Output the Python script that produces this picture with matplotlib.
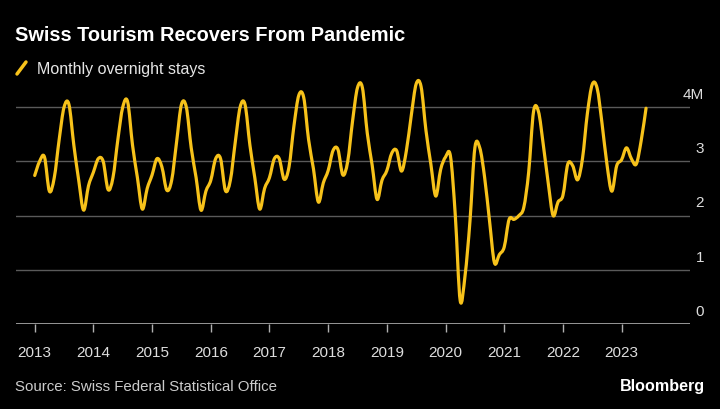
import numpy as np
import matplotlib.pyplot as plt
from matplotlib.path import Path
from matplotlib.patches import PathPatch
from matplotlib.lines import Line2D

# monthly overnight stays, millions
stays_2013 = [2.74, 3.0, 3.08, 2.45, 2.7, 3.4, 4.0, 4.05, 3.3, 2.65, 2.1, 2.55]
stays_2014 = [2.8, 3.05, 3.0, 2.48, 2.7, 3.4, 4.0, 4.1, 3.3, 2.7, 2.12, 2.5]
stays_2015 = [2.75, 3.05, 2.9, 2.47, 2.65, 3.35, 4.05, 4.0, 3.25, 2.7, 2.1, 2.45]
stays_2016 = [2.65, 3.05, 3.05, 2.46, 2.65, 3.35, 4.0, 4.05, 3.3, 2.7, 2.12, 2.5]
stays_2017 = [2.7, 3.05, 3.05, 2.67, 2.9, 3.65, 4.22, 4.18, 3.4, 2.86, 2.25, 2.6]
stays_2018 = [2.83, 3.2, 3.22, 2.75, 3.0, 3.75, 4.36, 4.36, 3.52, 2.93, 2.3, 2.65]
stays_2019 = [2.83, 3.15, 3.2, 2.82, 3.2, 3.85, 4.43, 4.38, 3.57, 2.95, 2.36, 2.85]
stays_2020 = [3.08, 3.1, 2.0, 0.43, 0.9, 1.9, 3.25, 3.25, 2.7, 1.9, 1.13, 1.28]
stays_2021 = [1.42, 1.93, 1.93, 2.0, 2.15, 2.8, 3.92, 3.92, 3.3, 2.6, 2.0, 2.25]
stays_2022 = [2.37, 2.95, 2.92, 2.66, 3.05, 3.88, 4.42, 4.35, 3.7, 2.95, 2.45, 2.92]
stays_2023 = [3.03, 3.25, 3.05, 2.95, 3.38, 3.98]

years = list(range(2013, 2024))
y_ticks = [0, 1, 2, 3, 4]
y_labels = ['0', '1', '2', '3', '4M']

YELLOW = '#f7c21a'
plt.rcParams['font.family'] = ['Liberation Sans', 'DejaVu Sans']

stays = np.array(stays_2013 + stays_2014 + stays_2015 + stays_2016 + stays_2017 +
                 stays_2018 + stays_2019 + stays_2020 + stays_2021 + stays_2022 + stays_2023)
t = 2013 + np.arange(len(stays)) / 12.0

fig = plt.figure(figsize=(7.2, 4.1), dpi=100, facecolor='black')
ax = fig.add_axes([0.0222, 0.2073, 0.936, 0.6016])
ax.set_facecolor('black')
ax.set_xlim(2012.681, 2024.164)
ax.set_ylim(0, 4.55)

# smooth curve through the monthly points (catmull-rom as bezier segments)
pts = np.column_stack([t, stays])
padded = np.vstack([pts[0], pts, pts[-1]])
verts = [tuple(pts[0])]
codes = [Path.MOVETO]
for i in range(1, len(padded) - 2):
    p0, p1, p2, p3 = padded[i - 1], padded[i], padded[i + 1], padded[i + 2]
    verts += [tuple(p1 + (p2 - p0) / 6), tuple(p2 - (p3 - p1) / 6), tuple(p2)]
    codes += [Path.CURVE4] * 3
ax.add_patch(PathPatch(Path(verts, codes), fill=False, edgecolor=YELLOW,
                       lw=2.3, capstyle='round', joinstyle='round', zorder=3,
                       clip_on=False))

# grid and axis
for v in y_ticks[1:]:
    ax.axhline(v, color='#5a5a5a', lw=1, zorder=1)
ax.axhline(0, color='#b0b0b0', lw=1.2, zorder=2)
for v, lab in zip(y_ticks, y_labels):
    ax.text(1.0208, v + 0.17, lab, transform=ax.get_yaxis_transform(),
            ha='right', va='baseline', color='#dddddd', fontsize=11)

for s in ax.spines.values():
    s.set_visible(False)
ax.set_yticks([])
ax.set_xticks(years)
ax.set_xticklabels([str(y) for y in years])
ax.tick_params(axis='x', colors='#b0b0b0', length=6, width=1, pad=9,
               labelcolor='#dddddd', labelsize=11)

# titles and footer
fig.text(0.021, 0.90, 'Swiss Tourism Recovers From Pandemic', color='white',
         fontsize=14.4, fontweight='bold', ha='left', va='baseline')
fig.add_artist(Line2D([17 / 720, 26 / 720], [1 - 75 / 410, 1 - 63 / 410],
                      color=YELLOW, lw=2.5, solid_capstyle='round'))
fig.text(37 / 720, 1 - 74 / 410, 'Monthly overnight stays', color='#e6e6e6',
         fontsize=11.5, ha='left', va='baseline')
fig.text(0.021, 1 - 391 / 410, 'Source: Swiss Federal Statistical Office',
         color='#cccccc', fontsize=10.8, ha='left', va='baseline')
fig.text(0.979, 1 - 391 / 410, 'Bloomberg', color='white', fontsize=11.6,
         fontweight='bold', ha='right', va='baseline')

fig.savefig('out.png', dpi=100, facecolor='black')
